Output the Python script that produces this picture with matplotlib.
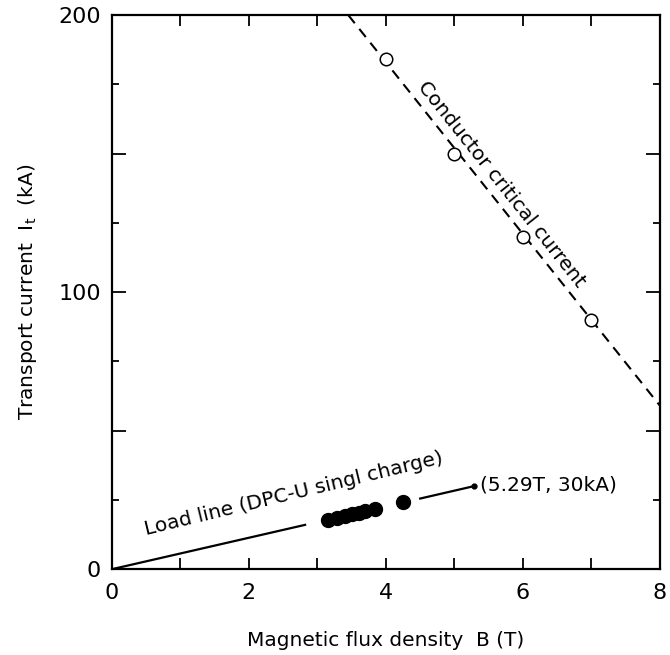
import numpy as np
import matplotlib
matplotlib.use('Agg')
import matplotlib.pyplot as plt

# conductor critical current (open circles) and its dashed fit line
crit_B = [4.0, 5.0, 6.0, 7.0]
crit_I = [184, 150, 120, 90]
crit_line_B = [3.45, 8.0]
crit_line_I = [200, 59]

# load line pieces (broken where the label/markers are)
load_seg1_B = [0.0, 2.82]
load_seg1_I = [0.0, 16.0]
load_seg2_B = [4.5, 5.29]
load_seg2_I = [25.5, 30.0]

# measured operating points (filled circles)
meas_B = [3.15, 3.28, 3.40, 3.50, 3.60, 3.70, 3.84, 4.25]
meas_I = [17.9, 18.6, 19.3, 19.8, 20.4, 21.0, 21.8, 24.1]

xticks_major = [0, 1, 2, 3, 4, 5, 6, 7, 8]
xtick_labels = ['0', '', '2', '', '4', '', '6', '', '8']
yticks_major = [0, 50, 100, 150, 200]
ytick_labels = ['0', '', '100', '', '200']
yticks_minor = [25, 75, 125, 175]

plt.rcParams['font.family'] = ['DejaVu Sans']

fig = plt.figure(figsize=(6.7, 6.55), dpi=100)
ax = fig.add_axes([0.167, 0.131, 0.818, 0.846])

ax.plot(crit_line_B, crit_line_I, 'k--', linewidth=1.5, dashes=(5, 3.5))
ax.plot(crit_B, crit_I, 'o', markersize=9, markerfacecolor='white',
        markeredgecolor='black', markeredgewidth=1.1, zorder=3)

ax.plot(load_seg1_B, load_seg1_I, 'k-', linewidth=1.6)
ax.plot(load_seg2_B, load_seg2_I, 'k-', linewidth=1.6)
ax.plot([load_seg2_B[-1]], [load_seg2_I[-1]], 'ko', markersize=3.5)
ax.plot(meas_B, meas_I, 'ko', markersize=10, zorder=3)

ax.text(5.37, 30.3, '(5.29T, 30kA)', fontsize=14.5, ha='left', va='center')
ax.text(2.66, 27.2, 'Load line (DPC-U singl charge)', fontsize=14.5,
        rotation=13.6, rotation_mode='anchor', ha='center', va='center')
ax.text(5.68, 139, 'Conductor critical current', fontsize=14.5,
        rotation=-51.5, rotation_mode='anchor', ha='center', va='center')

ax.set_xlim(0, 8)
ax.set_ylim(0, 200)
ax.set_xticks(xticks_major)
ax.set_xticklabels(xtick_labels, fontsize=16)
ax.set_yticks(yticks_major)
ax.set_yticklabels(ytick_labels, fontsize=16)
ax.set_yticks(yticks_minor, minor=True)

ax.tick_params(axis='both', which='major', direction='in', top=True, right=True,
               width=1.3, pad=8)
ax.tick_params(axis='x', which='major', length=8, pad=10)
ax.tick_params(axis='y', which='major', length=10)
ax.tick_params(axis='y', which='minor', direction='in', right=True,
               length=5, width=1.3)
for s in ax.spines.values():
    s.set_linewidth(1.6)

ax.set_xlabel('Magnetic flux density  B (T)', fontsize=14.5, labelpad=20)
ax.set_ylabel(r'Transport current  I$_\mathrm{t}$  (kA)', fontsize=14.5, labelpad=14)

fig.savefig('out.png', dpi=100)
